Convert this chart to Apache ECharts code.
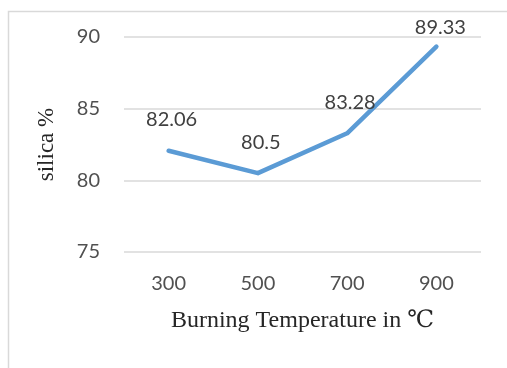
<!DOCTYPE html>
<html>
<head>
<meta charset="utf-8">
<script src="https://cdn.jsdelivr.net/npm/echarts@6/dist/echarts.min.js"></script>
<style>html,body{margin:0;padding:0;background:#fff;}#c{width:507px;height:368px;}</style>
</head>
<body>
<div id="c"></div>
<script>
const categories = ['300', '500', '700', '900'];
const silicaValues = [82.06, 80.5, 83.28, 89.33];
const yTicks = [75, 80, 85, 90];
const xTitle = 'Burning Temperature in ℃';
const yTitle = 'silica %';

const chart = echarts.init(document.getElementById('c'), null, {renderer: 'canvas'});
chart.setOption({
  animation: false,
  backgroundColor: '#ffffff',
  graphic: [{
    type: 'rect',
    left: 6, top: 9,
    shape: {width: 620, height: 420},
    style: {fill: 'none', stroke: '#d9d9d9', lineWidth: 1.5}
  }],
  grid: {left: 124, right: 26, top: 37, bottom: 116},
  xAxis: {
    type: 'category',
    data: categories,
    boundaryGap: true,
    axisLine: {show: false},
    axisTick: {show: false},
    axisLabel: {color: '#505050', fontSize: 20, fontFamily: 'Lato', margin: 22},
    name: xTitle,
    nameLocation: 'middle',
    nameGap: 57,
    nameTextStyle: {color: '#262626', fontSize: 24, fontFamily: '"Liberation Serif", "DejaVu Serif", serif', verticalAlign: 'top'}
  },
  yAxis: {
    type: 'value',
    min: yTicks[0], max: yTicks[yTicks.length - 1], interval: 5,
    axisLine: {show: false},
    axisTick: {show: false},
    splitLine: {lineStyle: {color: '#d9d9d9', width: 1.5}},
    axisLabel: {color: '#505050', fontSize: 20, fontFamily: 'Lato', margin: 24},
    name: yTitle,
    nameLocation: 'middle',
    nameGap: 66,
    nameTextStyle: {color: '#262626', fontSize: 23, fontFamily: '"Liberation Serif", serif'}
  },
  series: [{
    type: 'line',
    data: silicaValues.map((v, i) => i === 3 ? {value: v, label: {offset: [4, 12]}} : {value: v, label: {offset: [3, 0]}}),
    showSymbol: true,
    symbol: 'circle',
    symbolSize: 0,
    itemStyle: {color: '#5b9bd5'},
    lineStyle: {color: '#5b9bd5', width: 4.5, cap: 'round', join: 'round'},
    label: {show: true, position: 'top', distance: 21, color: '#404040', fontSize: 20, fontFamily: 'Lato'}
  }]
});
</script>
</body>
</html>
